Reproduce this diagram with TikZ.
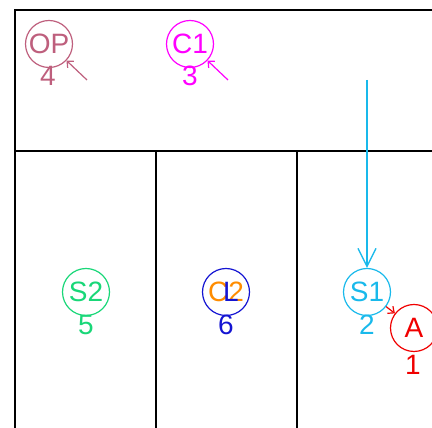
\documentclass[tikz,border=0pt]{standalone}
\usepackage{fontspec}
\setmainfont{Liberation Sans}
\usetikzlibrary{arrows.meta}
\definecolor{cop}{RGB}{190,95,125}
\definecolor{cc1}{RGB}{255,0,255}
\definecolor{cs1}{RGB}{25,185,235}
\definecolor{cs2}{RGB}{25,215,120}
\definecolor{cl2}{RGB}{20,20,210}
\definecolor{corange}{RGB}{255,140,0}
\definecolor{ca}{RGB}{240,0,0}
\begin{document}
\begin{tikzpicture}[x=1pt,y=1pt,
  frame/.style={draw=black,line width=1.3pt},
  circ/.style={circle,draw,line width=1.2pt,minimum size=47pt,inner sep=0pt,font=\fontsize{28}{28}\selectfont},
  num/.style={inner sep=0pt,font=\fontsize{28}{28}\selectfont},
  smallarr/.style={line width=1.2pt,-{Straight Barb[length=5pt,width=9pt]}},
  bigarr/.style={line width=1.4pt,-{Straight Barb[length=18pt,width=18pt]}}]
\useasboundingbox (0,0) rectangle (432,428);
% frame lines
\draw[frame] (15,0) -- (15,418) -- (440,418);
\draw[frame] (15,277) -- (440,277);
\draw[frame] (156,277) -- (156,0);
\draw[frame] (297,277) -- (297,0);
% nodes
\node[circ,draw=cop,text=cop] (op) at (49,384) {OP};
\node[num,text=cop] (op4) at (48,352) {4};
\coordinate (opt) at (87,348);
\draw[smallarr,cop] (opt) -- (op);

\node[circ,draw=cc1,text=cc1] (c1) at (190,384) {C1};
\node[num,text=cc1] (c13) at (190,352) {3};
\coordinate (c1t) at (228,348);
\draw[smallarr,cc1] (c1t) -- (c1);

\node[circ,draw=cs1,text=cs1] (s1) at (367,136) {S1};
\node[num,text=cs1] (s12) at (367,103) {2};
\coordinate (s1t) at (367,348);
\draw[bigarr,cs1] (s1t) -- (s1);

\node[circ,draw=ca,text=ca] (a) at (414,100) {A};
\node[num,text=ca] (a1) at (413,63) {1};
\draw[smallarr,ca] (s1) -- (a);

\node[circ,draw=cs2,text=cs2] (s2) at (86,136) {S2};
\node[num,text=cs2] (s25) at (86,103) {5};

\node[circ,draw=cl2] (l2) at (226,136) {};
\node[num,text=corange] (c2) at (l2.center) {C2};
\node[num,text=cl2,anchor=base west] (l2b) at ([xshift=-3pt]c2.base) {L};
\node[num,text=cl2] (l26) at (226,103) {6};
\end{tikzpicture}
\end{document}
